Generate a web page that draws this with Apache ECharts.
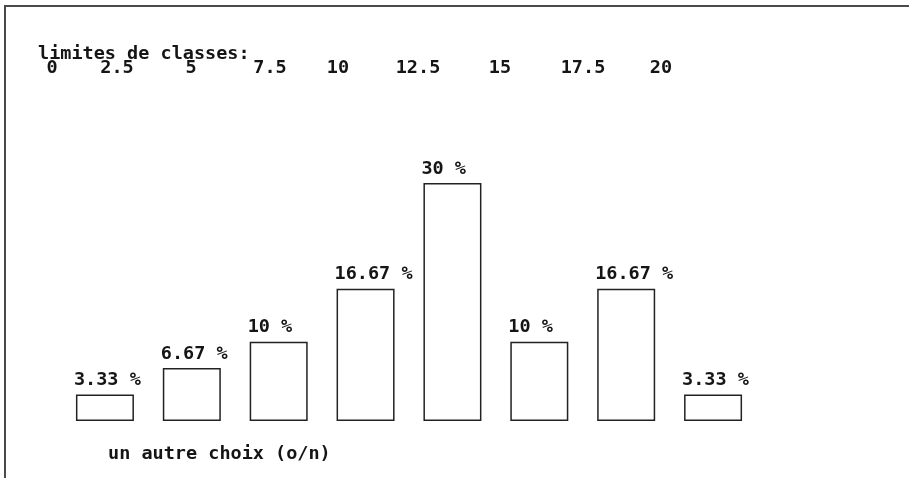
<!DOCTYPE html>
<html>
<head>
<meta charset="utf-8">
<script src="https://cdn.jsdelivr.net/npm/echarts@6/dist/echarts.min.js"></script>
<style>
html,body{margin:0;padding:0;background:#fff;}
#chart{width:909px;height:478px;}
</style>
</head>
<body>
<div id="chart"></div>
<script>
// ---- data ----
const headerText = 'limites de classes:';
const classLimits = ['0', '2.5', '5', '7.5', '10', '12.5', '15', '17.5', '20'];
const percentages = [3.33, 6.67, 10, 16.67, 30, 10, 16.67, 3.33];
const promptText = 'un autre choix (o/n)';

// ---- layout (not data) ----
const FONT = 'DejaVu Sans Mono';
const FS = 18.5;
const ORIGIN = 38;
const limitCenters = [52, 117, 191, 270, 338, 418, 500, 583, 661];
const INK = '#151515';

const categories = percentages.map((_, i) => classLimits[i] + '-' + classLimits[i + 1]);

const chart = echarts.init(document.getElementById('chart'), null, {renderer: 'canvas'});

const graphics = [
  {
    type: 'polyline',
    shape: {points: [[5, 478], [5, 6], [909, 6]]},
    style: {stroke: '#4a4a4a', lineWidth: 2, fill: null},
    silent: true
  },
  {
    type: 'text', left: ORIGIN, top: 45,
    style: {text: headerText, font: 'bold ' + FS + 'px "' + FONT + '"', fill: INK}
  },
  {
    type: 'text', left: ORIGIN + 70, top: 445,
    style: {text: promptText, font: 'bold ' + FS + 'px "' + FONT + '"', fill: INK}
  }
];
classLimits.forEach((t, i) => {
  graphics.push({
    type: 'text',
    x: limitCenters[i],
    y: 59,
    style: {text: t, align: 'center', font: 'bold ' + FS + 'px "' + FONT + '"', fill: INK}
  });
});

chart.setOption({
  animation: false,
  backgroundColor: '#ffffff',
  grid: {left: 61.5, width: 695, top: 183, height: 238, containLabel: false},
  xAxis: {
    type: 'category',
    data: categories,
    show: false
  },
  yAxis: {
    type: 'value',
    min: 0,
    max: 30,
    show: false
  },
  graphic: graphics,
  series: [{
    type: 'bar',
    data: percentages,
    barWidth: 58,
    itemStyle: {color: '#ffffff', borderColor: '#222222', borderWidth: 1.5},
    label: {
      show: true,
      position: 'top',
      align: 'left',
      offset: [-31, 0],
      distance: 5,
      formatter: p => p.value + ' %',
      fontFamily: FONT,
      fontWeight: 'bold',
      fontSize: FS,
      lineHeight: FS,
      color: INK
    }
  }]
});
</script>
</body>
</html>
